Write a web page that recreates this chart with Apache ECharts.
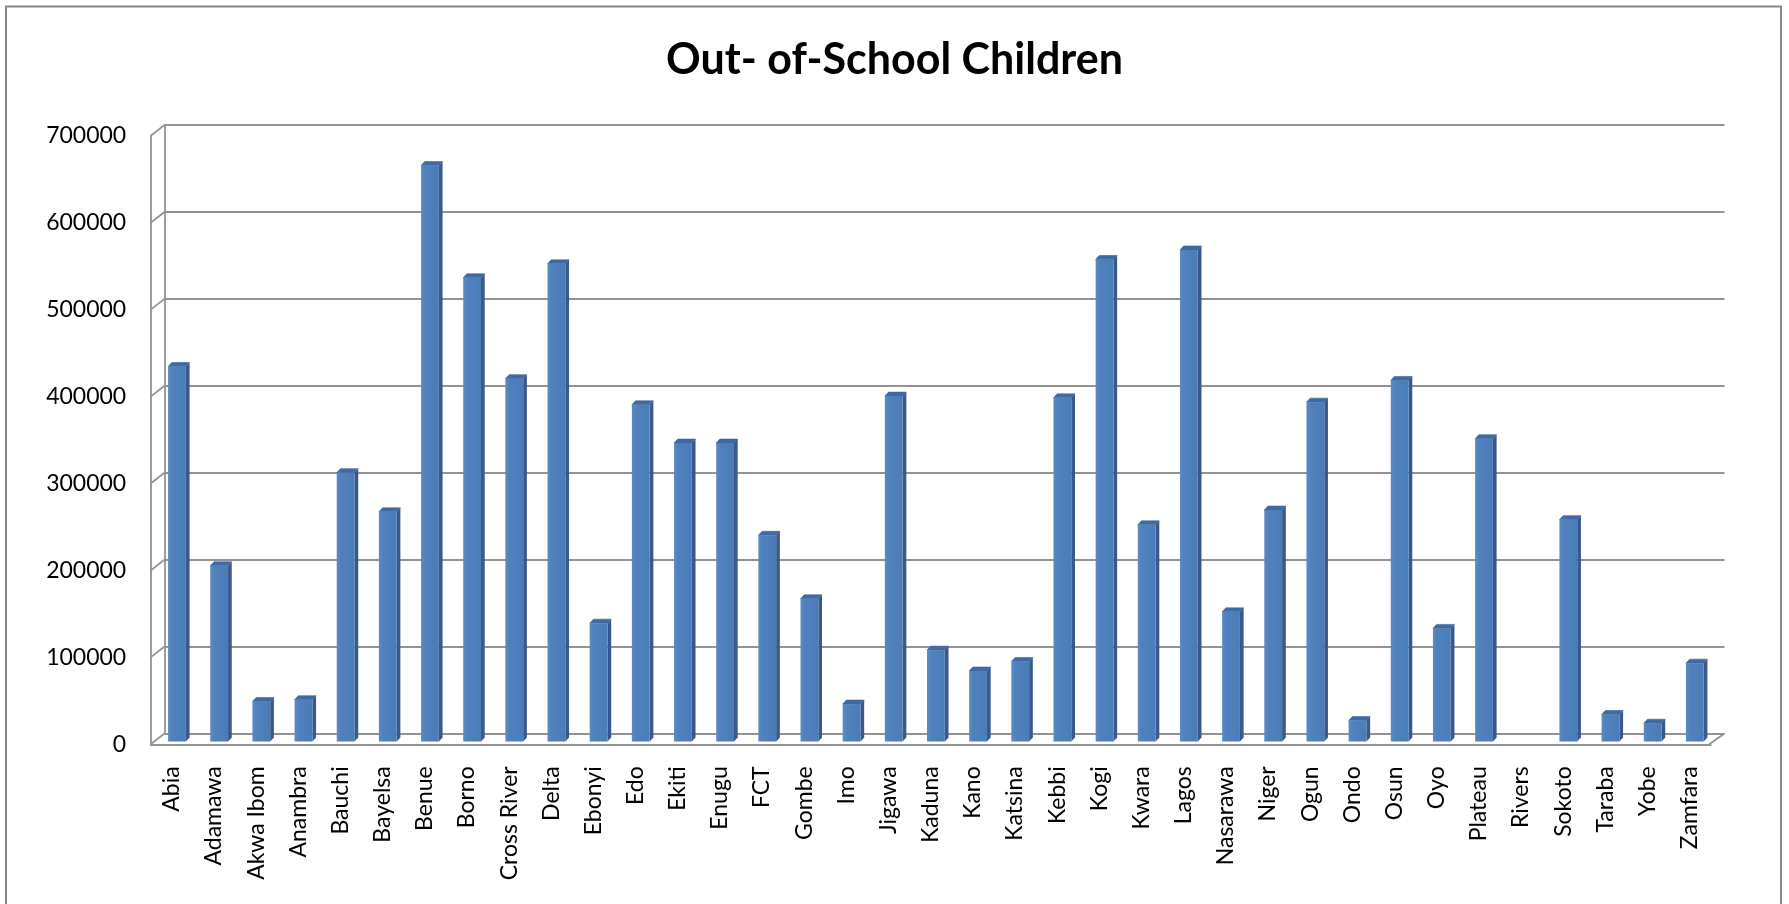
<!DOCTYPE html>
<html>
<head>
<meta charset="utf-8">
<script src="https://cdn.jsdelivr.net/npm/echarts@6/dist/echarts.min.js"></script>
<style>
  html, body { margin: 0; padding: 0; background: #ffffff; }
  #chart { width: 1789px; height: 904px; }
</style>
</head>
<body>
<div id="chart"></div>
<script>
// ---- data ----
const states = ['Abia','Adamawa','Akwa Ibom','Anambra','Bauchi','Bayelsa','Benue','Borno','Cross River','Delta',
  'Ebonyi','Edo','Ekiti','Enugu','FCT','Gombe','Imo','Jigawa','Kaduna','Kano','Katsina','Kebbi','Kogi','Kwara',
  'Lagos','Nasarawa','Niger','Ogun','Ondo','Osun','Oyo','Plateau','Rivers','Sokoto','Taraba','Yobe','Zamfara'];
const outOfSchool = [431000, 202000, 46000, 48000, 309000, 264000, 662000, 533000, 417000, 549000,
  136000, 387000, 343000, 343000, 237000, 164000, 43000, 397000, 105000, 81000, 92000, 395000, 554000, 249000,
  565000, 149000, 266000, 390000, 24000, 415000, 130000, 348000, 0, 255000, 31000, 21000, 90000];
const yTicks = [0, 100000, 200000, 300000, 400000, 500000, 600000, 700000];
const chartTitle = 'Out- of-School Children';

// ---- style constants ----
const FONT = 'Lato';
const GRID_COLOR = '#939393';
const DEPTH_DX = -13.8, DEPTH_DY = 10.8;   // wall depth (back -> front)
const BAR_W = 17.8, BAR_DX = 3.7, BAR_DY = -4;

const chart = echarts.init(document.getElementById('chart'), null, { renderer: 'canvas' });

const yMin = yTicks[0], yMax = yTicks[yTicks.length - 1], yStep = yTicks[1] - yTicks[0];

const option = {
  animation: false,
  backgroundColor: '#ffffff',
  title: {
    text: chartTitle,
    left: 'center',
    top: 34,
    textStyle: { fontFamily: FONT, fontWeight: 'bold', fontSize: 43, color: '#000000' }
  },
  graphic: [{
    type: 'rect',
    shape: { x: 6, y: 6.5, width: 1775, height: 920 },
    style: { fill: 'none', stroke: '#878787', lineWidth: 2 },
    silent: true
  }],
  grid: [
    { left: 164.5, top: 125, width: 1560, height: 608.5 },   // back wall
    { left: 150.7, top: 135.8, width: 1560, height: 608.5 }, // front plane
    { left: 155.9, top: 132.5, width: 1560, height: 609 }    // bar plane
  ],
  xAxis: [
    { type: 'category', gridIndex: 0, data: states, show: false },
    { type: 'category', gridIndex: 1, data: states,
      axisLine: { show: true, lineStyle: { color: GRID_COLOR, width: 1.8 } },
      axisTick: { show: false },
      axisLabel: { rotate: 90, interval: 0, margin: 22, fontFamily: FONT, fontSize: 23, color: '#000000' }
    },
    { type: 'category', gridIndex: 2, data: states, show: false }
  ],
  yAxis: [
    { type: 'value', gridIndex: 0, min: yMin, max: yMax, interval: yStep,
      axisLine: { show: true, lineStyle: { color: GRID_COLOR, width: 1.8 } },
      axisTick: { show: false }, axisLabel: { show: false },
      splitLine: { show: true, lineStyle: { color: GRID_COLOR, width: 1.8 } }
    },
    { type: 'value', gridIndex: 1, min: yMin, max: yMax, interval: yStep,
      axisLine: { show: true, lineStyle: { color: GRID_COLOR, width: 1.8 } },
      axisTick: { show: false },
      axisLabel: { margin: 24.5, fontFamily: FONT, fontSize: 23, color: '#000000',
                   formatter: function (v) { return String(v); } },
      splitLine: { show: false }
    },
    { type: 'value', gridIndex: 2, min: yMin, max: yMax, interval: yStep, show: false, splitLine: { show: false } }
  ],
  series: [
    {
      // side-wall and floor slants of the 3D frame
      type: 'custom',
      xAxisIndex: 0, yAxisIndex: 0,
      silent: true,
      data: yTicks.map(v => [0, v]),
      renderItem: function (params, api) {
        const cs = params.coordSys;
        const y = api.coord([0, api.value(1)])[1];
        const children = [{
          type: 'line',
          shape: { x1: cs.x, y1: y, x2: cs.x + DEPTH_DX, y2: y + DEPTH_DY },
          style: { stroke: GRID_COLOR, lineWidth: 1.8 }
        }];
        if (api.value(1) === yMin) {
          const xr = cs.x + cs.width;
          children.push({
            type: 'line',
            shape: { x1: xr, y1: y, x2: xr + DEPTH_DX - 1.5, y2: y + DEPTH_DY },
            style: { stroke: GRID_COLOR, lineWidth: 1.8 }
          });
        }
        return { type: 'group', children: children };
      },
      z: 1
    },
    {
      // 3D-looking bars
      type: 'custom',
      name: 'Out-of-School Children',
      xAxisIndex: 2, yAxisIndex: 2,
      data: outOfSchool.map((v, i) => [i, v]),
      renderItem: function (params, api) {
        const v = api.value(1);
        if (!v) return null;
        const base = api.coord([api.value(0), 0]);
        const top = api.coord([api.value(0), v]);
        const cx = base[0];
        const x0 = cx - BAR_W / 2, x1 = cx + BAR_W / 2;
        const yb = base[1], yt = top[1];
        return {
          type: 'group',
          children: [
            { type: 'polygon',
              shape: { points: [[x1, yb], [x1, yt], [x1 + BAR_DX, yt + BAR_DY], [x1 + BAR_DX, yb + BAR_DY]] },
              style: { fill: '#38598a' } },
            { type: 'polygon',
              shape: { points: [[x0, yt], [x1, yt], [x1 + BAR_DX, yt + BAR_DY], [x0 + BAR_DX, yt + BAR_DY]] },
              style: { fill: '#3f6aa3', stroke: '#3a6199', lineWidth: 0.6 } },
            { type: 'rect',
              shape: { x: x0, y: yt, width: BAR_W, height: yb - yt },
              style: { fill: new echarts.graphic.LinearGradient(0, 0, 1, 0, [
                { offset: 0, color: '#5a8ac5' }, { offset: 0.25, color: '#4f81bd' }, { offset: 1, color: '#4b7cb8' }
              ]) } }
          ]
        };
      },
      z: 3
    }
  ]
};
chart.setOption(option);
</script>
</body>
</html>
